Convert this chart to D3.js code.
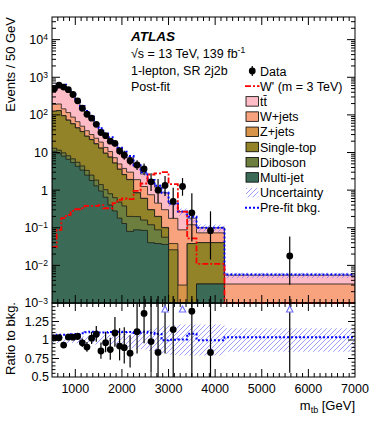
<!DOCTYPE html>
<html lang="en">
<head>
  <meta charset="UTF-8">
  <title>ATLAS m_tb post-fit</title>
  <script src="https://d3js.org/d3.v7.min.js"></script>
  <style>
    body { margin: 0; background: #fff; }
    text { font-family: "Liberation Sans", Arial, Helvetica, sans-serif; fill: #000; }
  </style>
</head>
<body>
  <div id="chart"></div>

  <script>
    // bin edges in GeV, the plot is normalised to events / 50 GeV
    const binEdges = [500, 600, 700, 800, 900, 1000, 1100, 1200, 1300, 1400, 1500, 1600, 1700, 1800, 1900, 2000, 2100,
                      2250, 2400, 2550, 2700, 2850, 3000, 3200, 3400, 3600, 4200, 7000];

    // observed events per bin
    const dataCounts = [994, 1230, 1098, 936, 696, 472, 300, 208, 164, 112, 68, 56, 40, 35, 22, 17,
                        18, 14, 11, 5, 3, 4, 2, 5, 1, 1, 1];

    // post-fit backgrounds, events / 50 GeV
    const multiJet = [10.8, 9.5, 8.0, 6.6, 5.4, 4.3, 3.4, 2.5, 1.8, 1.3, 0.95, 0.65, 0.40, 0.28, 0.18, 0.13,
                      0.08, 0.088, 0.085, 0.040, 0.038, 0.036, 0, 0, 0, 0.0032, 0];
    const diboson = [2.2, 2.0, 1.8, 1.6, 1.4, 1.2, 1.0, 0.85, 0.7, 0.55, 0.45, 0.38, 0.4, 0.35, 0.3, 0.25,
                     0.12, 0.11, 0.075, 0.08, 0.05, 0.02, 0, 0, 0, 0, 0];
    const singleTop = [112, 118, 85, 64, 51, 39.5, 31.6, 23.6, 19.5, 15.1, 11.6, 8.5, 6.7, 4.6, 3.1, 2.2,
                       1.7, 0.65, 0.44, 0.18, 0.11, 0.044, 0.026, 0, 0.038, 0.037, 0];
    const zJets = [1.3, 1.4, 1.0, 0.8, 0.6, 0.5, 0.4, 0.3, 0.25, 0.2, 0.15, 0.11, 0.09, 0.06, 0.045, 0.03,
                   0.025, 0.01, 0.008, 0.004, 0.003, 0.002, 0.012, 0.003, 0, 0, 0];
    const wJets = [64, 64, 49, 42, 29, 20.5, 13.6, 10.7, 7.8, 6.8, 5.8, 4.0, 3.0, 2.0, 1.35, 1.17,
                   1.08, 1.04, 0.64, 0.45, 0.25, 0.2, 0.14, 0.085, 0.082, 0.033, 0.0032];
    const ttbar = [293, 402, 445, 335, 248, 159, 106, 77, 50, 28, 21, 15.4, 12.4, 8.7, 7.0, 5.7,
                   4.3, 2.3, 1.45, 0.95, 0.75, 0.55, 0.26, 0.18, 0.06, 0.027, 0.0023];

    // relative uncertainty on the total background
    const bkgUnc = [0.04, 0.04, 0.04, 0.04, 0.04, 0.045, 0.05, 0.05, 0.055, 0.06, 0.06, 0.065, 0.07, 0.08, 0.09, 0.1,
                    0.11, 0.12, 0.13, 0.15, 0.17, 0.19, 0.2, 0.21, 0.21, 0.21, 0.16];

    // pre-fit total background, events / 50 GeV
    const preFit = [512, 639, 631, 482, 362, 243, 170, 127, 89, 58, 44, 32, 25.5, 17.8, 13.3, 10.5,
                    8.1, 4.6, 3.0, 1.87, 1.3, 0.85, 0.44, 0.27, 0.195, 0.10, 0.0057];

    // W' signal, m = 3 TeV
    const signal = [0.031, 0.088, 0.18, 0.22, 0.28, 0.31, 0.33, 0.38, 0.38, 0.38, 0.40, 0.33, 0.33, 0.45, 0.55, 0.6,
                    0.58, 0.96, 1.5, 2.6, 2.8, 3.0, 1.45, 0.27, 0.052, 0.011, 0.0008];

    const xTicks = [1000, 2000, 3000, 4000, 5000, 6000, 7000];
    const yTicks = [1e-3, 1e-2, 1e-1, 1, 10, 1e2, 1e3, 1e4];
    const yTickExp = ["-3", "-2", "-1", "", "", "2", "3", "4"];
    const yTickBase = ["10", "10", "10", "1", "10", "10", "10", "10"];
    const ratioTicks = [0.5, 0.75, 1, 1.25];

    const fr = {left: 52, right: 355, top: 17, mid: 303, bottom: 377};
    const W = 374, H = 421;

    const x = d3.scaleLinear().domain([500, 7000]).range([fr.left, fr.right]);
    const y = d3.scaleLog().domain([1e-3, 4e4]).range([fr.mid, fr.top]);
    const yr = d3.scaleLinear().domain([0.5, 1.5]).range([fr.bottom, fr.mid]);
    const yc = v => y(Math.max(v, 1e-3));

    const nBins = binEdges.length - 1;
    const widths = d3.range(nBins).map(i => (binEdges[i + 1] - binEdges[i]) / 50);
    const centers = d3.range(nBins).map(i => (binEdges[i] + binEdges[i + 1]) / 2);

    // stack, bottom to top
    const keys = ["mj", "db", "st", "zj", "wj", "tt"];
    const colors = {mj: "#3b6b56", db: "#6d7f3e", st: "#928228", zj: "#d8954a", wj: "#f8a37e", tt: "#ffbcc6"};
    const rows = d3.range(nBins).map(i => ({
      mj: multiJet[i], db: diboson[i], st: singleTop[i], zj: zJets[i], wj: wJets[i], tt: ttbar[i]
    }));
    const series = d3.stack().keys(keys)(rows);
    const total = rows.map((r, i) => series[series.length - 1][i][1]);

    // poisson interval (Wilson-Hilferty approx of the Garwood interval)
    const poisLo = n => n <= 0 ? 0 : n * Math.pow(1 - 1 / (9 * n) - 1 / (3 * Math.sqrt(n)), 3);
    const poisHi = n => { const m = n + 1; return m * Math.pow(1 - 1 / (9 * m) + 1 / (3 * Math.sqrt(m)), 3); };

    const data = d3.range(nBins).map(i => {
      const n = dataCounts[i], w = widths[i];
      return {c: centers[i], v: n / w, lo: poisLo(n) / w, hi: poisHi(n) / w, tot: total[i]};
    });

    const line = d3.line();
    function stepPoints(vals, fy) {
      const pts = [];
      vals.forEach((v, i) => {
        pts.push([x(binEdges[i]), fy(v)]);
        pts.push([x(binEdges[i + 1]), fy(v)]);
      });
      return pts;
    }
    function stepArea(vals, fy, base) {
      const pts = stepPoints(vals, fy);
      return line([[x(binEdges[0]), base], ...pts, [x(binEdges[nBins]), base]]) + "Z";
    }
    function bandPath(lo, hi, fy) {
      const top = stepPoints(hi, fy);
      const bot = stepPoints(lo, fy).reverse();
      return line([...top, ...bot]) + "Z";
    }

    const svg = d3.select("#chart").append("svg").attr("width", W).attr("height", H);
    const defs = svg.append("defs");
    defs.append("clipPath").attr("id", "clipMain").append("rect")
        .attr("x", fr.left).attr("y", fr.top).attr("width", fr.right - fr.left).attr("height", fr.mid - fr.top + 1);
    defs.append("clipPath").attr("id", "clipRatio").append("rect")
        .attr("x", fr.left).attr("y", fr.mid).attr("width", fr.right - fr.left).attr("height", fr.bottom - fr.mid);
    defs.append("clipPath").attr("id", "clipRatioErr").append("rect")
        .attr("x", fr.left).attr("y", fr.mid - 7).attr("width", fr.right - fr.left).attr("height", fr.bottom - fr.mid + 7);
    const pat = defs.append("pattern").attr("id", "hatch").attr("patternUnits", "userSpaceOnUse")
        .attr("width", 5).attr("height", 5);
    pat.append("path").attr("d", "M-1,1 L1,-1 M0,5 L5,0 M4,6 L6,4")
        .attr("stroke", "#6f6fff").attr("stroke-width", 0.9).attr("stroke-opacity", 0.75);

    // ---------- main panel ----------
    const gMain = svg.append("g").attr("clip-path", "url(#clipMain)");

    series.slice().reverse().forEach(s => {
      const tops = s.map(d => d[1]);
      gMain.append("path")
           .attr("d", stepArea(tops, yc, fr.mid + 2))
           .attr("fill", colors[s.key])
           .attr("stroke", "#1a1a1a")
           .attr("stroke-width", 0.8);
    });

    gMain.append("path")
         .attr("d", bandPath(total.map((t, i) => t * (1 - bkgUnc[i])), total.map((t, i) => t * (1 + bkgUnc[i])), yc))
         .attr("fill", "url(#hatch)");

    gMain.append("path")
         .attr("d", line(stepPoints(preFit, yc)))
         .attr("fill", "none").attr("stroke", "#0000ff").attr("stroke-width", 2)
         .attr("stroke-dasharray", "2,2");

    gMain.append("path")
         .attr("d", line(stepPoints(signal, yc)))
         .attr("fill", "none").attr("stroke", "#ff0000").attr("stroke-width", 1.8)
         .attr("stroke-dasharray", "6,2,2,2");

    gMain.selectAll(".err").data(data).enter().append("line")
         .attr("x1", d => x(d.c)).attr("x2", d => x(d.c))
         .attr("y1", d => yc(d.lo)).attr("y2", d => yc(d.hi))
         .attr("stroke", "#000").attr("stroke-width", 1.2);
    gMain.selectAll(".pt").data(data).enter().append("circle")
         .attr("cx", d => x(d.c)).attr("cy", d => yc(d.v)).attr("r", 3.4).attr("fill", "#000");

    // ---------- ratio panel ----------
    const gRatio = svg.append("g").attr("clip-path", "url(#clipRatio)");
    gRatio.append("path")
          .attr("d", bandPath(bkgUnc.map(u => 1 - u), bkgUnc.map(u => 1 + u), yr))
          .attr("fill", "url(#hatch)");
    gRatio.append("path")
          .attr("d", line(stepPoints(preFit.map((p, i) => p / total[i]), yr)))
          .attr("fill", "none").attr("stroke", "#0000ff").attr("stroke-width", 2)
          .attr("stroke-dasharray", "2,2");

    const gRatioErr = svg.append("g").attr("clip-path", "url(#clipRatioErr)");
    gRatioErr.selectAll(".rerr").data(data).enter().append("line")
             .attr("x1", d => x(d.c)).attr("x2", d => x(d.c))
             .attr("y1", d => yr(Math.max(d.lo / d.tot, 0.3)))
             .attr("y2", d => yr(Math.min(d.hi / d.tot, 3)))
             .attr("stroke", "#000").attr("stroke-width", 1.2);

    const inRange = data.filter(d => d.v / d.tot <= 1.5);
    const offScale = data.filter(d => d.v / d.tot > 1.5);
    gRatio.selectAll(".rpt").data(inRange).enter().append("circle")
          .attr("cx", d => x(d.c)).attr("cy", d => yr(d.v / d.tot)).attr("r", 3.4).attr("fill", "#000");
    svg.selectAll(".tri").data(offScale).enter().append("path")
       .attr("d", d => line([[x(d.c), fr.mid + 3], [x(d.c) + 3.2, fr.mid + 9], [x(d.c) - 3.2, fr.mid + 9]]) + "Z")
       .attr("fill", "#fff").attr("stroke", "#7070ff").attr("stroke-width", 1.1);

    // ---------- frames and ticks ----------
    svg.append("rect").attr("x", fr.left).attr("y", fr.top)
       .attr("width", fr.right - fr.left).attr("height", fr.mid - fr.top)
       .attr("fill", "none").attr("stroke", "#000").attr("stroke-width", 1);
    svg.append("rect").attr("x", fr.left).attr("y", fr.mid)
       .attr("width", fr.right - fr.left).attr("height", fr.bottom - fr.mid)
       .attr("fill", "none").attr("stroke", "#000").attr("stroke-width", 1);

    const gTicks = svg.append("g").attr("stroke", "#000").attr("stroke-width", 1);
    function tick(x1, y1, x2, y2) {
      gTicks.append("line").attr("x1", x1).attr("y1", y1).attr("x2", x2).attr("y2", y2);
    }

    const xMinor = d3.range(500, 7001, 125);
    [[fr.top, 1], [fr.mid, -1], [fr.mid, 1], [fr.bottom, -1]].forEach(([yy, dir]) => {
      xMinor.forEach(v => {
        const len = v % 1000 === 0 ? 8 : 4;
        if (v > 500 && v < 7000) tick(x(v), yy, x(v), yy + dir * len);
      });
    });

    const yMinor = [];
    for (let e = -3; e <= 4; e++) for (let m = 1; m <= 9; m++) {
      const v = m * Math.pow(10, e);
      if (v > 1e-3 && v < 4e4) yMinor.push({v: v, major: m === 1});
    }
    yMinor.forEach(d => {
      const len = d.major ? 8 : 4;
      tick(fr.left, y(d.v), fr.left + len, y(d.v));
      tick(fr.right, y(d.v), fr.right - len, y(d.v));
    });

    d3.range(0.55, 1.5, 0.05).forEach(v => {
      const major = Math.abs(v * 4 - Math.round(v * 4)) < 1e-6;
      const len = major ? 7 : 3.5;
      tick(fr.left, yr(v), fr.left + len, yr(v));
      tick(fr.right, yr(v), fr.right - len, yr(v));
    });

    // ---------- labels ----------
    const yLab = svg.append("g").attr("font-size", 12.5).attr("text-anchor", "end");
    yTicks.forEach((v, i) => {
      const t = yLab.append("text").attr("x", 48).attr("y", y(v)).attr("dy", "0.35em");
      t.append("tspan").text(yTickBase[i]);
      if (yTickExp[i]) t.append("tspan").attr("dy", "-0.45em").attr("font-size", 8.5).text(yTickExp[i].replace("-", "\u2212"));
    });
    ratioTicks.forEach(v => {
      yLab.append("text").attr("x", 49).attr("y", yr(v)).attr("dy", "0.35em").text(v);
    });

    svg.append("g").attr("font-size", 12.5).attr("text-anchor", "middle")
       .selectAll("text").data(xTicks).enter().append("text")
       .attr("x", d => x(d)).attr("y", 393).text(d => d);

    svg.append("text").attr("transform", "translate(15,17) rotate(-90)")
       .attr("text-anchor", "end").attr("font-size", 13).text("Events / 50 GeV");
    svg.append("text").attr("transform", "translate(15,302) rotate(-90)")
       .attr("text-anchor", "end").attr("font-size", 13).text("Ratio to bkg.");

    const xt = svg.append("text").attr("x", fr.right).attr("y", 410).attr("text-anchor", "end").attr("font-size", 13);
    xt.append("tspan").text("m");
    xt.append("tspan").attr("dy", 3).attr("font-size", 9).text("tb");
    xt.append("tspan").attr("dy", -3).text(" [GeV]");

    // ATLAS block
    svg.append("text").attr("x", 131).attr("y", 41).attr("font-size", 13.5)
       .attr("font-weight", "bold").attr("font-style", "italic").text("ATLAS");
    const lumi = svg.append("text").attr("x", 131).attr("y", 58).attr("font-size", 12.5);
    lumi.append("tspan").text("\u221As = 13 TeV, 139 fb");
    lumi.append("tspan").attr("dy", -5).attr("font-size", 8.5).text("-1");
    svg.append("text").attr("x", 131).attr("y", 75).attr("font-size", 12.5).text("1-lepton, SR 2j2b");
    svg.append("text").attr("x", 131).attr("y", 91).attr("font-size", 12.5).text("Post-fit");

    // legend
    const legendNames = ["Data", "W' (m = 3 TeV)", "t\u0074\u0304", "W+jets", "Z+jets", "Single-top", "Diboson", "Multi-jet", "Uncertainty", "Pre-fit bkg."];
    const legendKeys = ["data", "sig", "tt", "wj", "zj", "st", "db", "mj", "unc", "pre"];
    const lg = svg.append("g");
    legendKeys.forEach((k, i) => {
      const yy = 71 + i * 15.2;
      const bx = 246, bw = 12.5, bh = 9.5;
      if (k === "data") {
        lg.append("line").attr("x1", bx + bw / 2).attr("x2", bx + bw / 2).attr("y1", yy - 5).attr("y2", yy + 5)
          .attr("stroke", "#000").attr("stroke-width", 1.2);
        lg.append("circle").attr("cx", bx + bw / 2).attr("cy", yy).attr("r", 3.4).attr("fill", "#000");
      } else if (k === "sig") {
        lg.append("line").attr("x1", bx - 1).attr("x2", bx + bw + 1).attr("y1", yy).attr("y2", yy)
          .attr("stroke", "#ff0000").attr("stroke-width", 1.8).attr("stroke-dasharray", "6,2,2,2");
      } else if (k === "pre") {
        lg.append("line").attr("x1", bx - 1).attr("x2", bx + bw + 1).attr("y1", yy).attr("y2", yy)
          .attr("stroke", "#0000ff").attr("stroke-width", 2).attr("stroke-dasharray", "2,2");
      } else if (k === "unc") {
        lg.append("rect").attr("x", bx).attr("y", yy - bh / 2).attr("width", bw).attr("height", bh)
          .attr("fill", "url(#hatch)");
      } else {
        lg.append("rect").attr("x", bx).attr("y", yy - bh / 2).attr("width", bw).attr("height", bh)
          .attr("fill", colors[k]).attr("stroke", "#000").attr("stroke-width", 0.8);
      }
      lg.append("text").attr("x", 260).attr("y", yy).attr("dy", "0.36em").attr("font-size", 12.5).text(legendNames[i]);
    });
  </script>
</body>
</html>
